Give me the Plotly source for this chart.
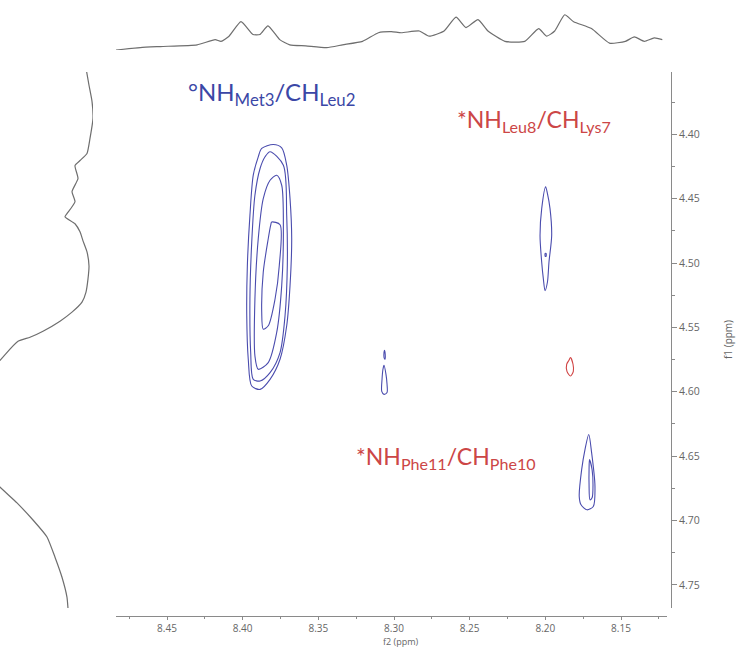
import plotly.graph_objects as go

W, H = 736, 649

# ---- 1D projection along f2 (top trace): chemical shift (ppm) and intensity
top_ppm = [8.4837, 8.4676, 8.4544, 8.4301, 8.4182, 8.4143, 8.4090, 8.4011, 8.3932, 8.3886,
           8.3833, 8.3755, 8.3689, 8.3583, 8.3445, 8.3340, 8.3208, 8.3103, 8.3017, 8.2952,
           8.2833, 8.2768, 8.2669, 8.2590, 8.2524, 8.2445, 8.2379, 8.2267, 8.2136, 8.2044,
           8.1991, 8.1938, 8.1872, 8.1813, 8.1695, 8.1576, 8.1471, 8.1412, 8.1346, 8.1280, 8.1227]
top_int = [0, 7, 10, 15, 30, 25, 40, 82, 45, 45,
           70, 30, 15, 12, 7, 15, 25, 50, 53, 50,
           55, 40, 55, 95, 65, 88, 55, 25, 25, 62,
           40, 55, 102, 82, 62, 20, 25, 38, 25, 35, 30]

# ---- 1D projection along f1 (left trace)
left_ppm = [4.3485, 4.3618, 4.3743, 4.3875, 4.4031, 4.4148, 4.4203, 4.4242, 4.4343, 4.4445,
            4.4523, 4.4616, 4.4640, 4.4694, 4.4757, 4.4827, 4.4913, 4.5022, 4.5123, 4.5225,
            4.5303, 4.5381, 4.5451, 4.5529, 4.5576, 4.5607, 4.5825, 4.6215, 4.6605, 4.6863,
            4.6996, 4.7128, 4.7285, 4.7441, 4.7597, 4.7683]
left_int = [7, 4, 1, 0, 3, 6, 13, 18, 15, 21,
            18, 26, 28, 18, 13, 10, 6, 4, 5, 7,
            11, 21, 33, 50, 63, 75, 100, 125, 110, 76,
            60, 46, 38, 31, 26, 25]

# ---- 2D cross-peak contours (f2 ppm, f1 ppm)
met3_c1_f2 = [8.3874, 8.3798, 8.3742, 8.3709, 8.3687, 8.3676, 8.3687, 8.3709, 8.3753, 8.3819,
              8.3885, 8.3940, 8.3963, 8.3973, 8.3969, 8.3952, 8.3930, 8.3897]
met3_c1_f1 = [4.4109, 4.4078, 4.4104, 4.4239, 4.4499, 4.4811, 4.5175, 4.5487, 4.5747, 4.5903,
              4.5981, 4.5955, 4.5747, 4.5409, 4.5019, 4.4629, 4.4317, 4.4174]
met3_c2_f2 = [8.3819, 8.3731, 8.3709, 8.3705, 8.3720, 8.3753, 8.3819, 8.3885, 8.3930, 8.3947,
              8.3952, 8.3940, 8.3919, 8.3885, 8.3852]
met3_c2_f1 = [4.4135, 4.4239, 4.4629, 4.5019, 4.5409, 4.5695, 4.5851, 4.5916, 4.5903, 4.5695,
              4.5279, 4.4837, 4.4473, 4.4265, 4.4174]
met3_c3_f2 = [8.3775, 8.3742, 8.3731, 8.3742, 8.3775, 8.3831, 8.3897, 8.3919, 8.3919, 8.3897,
              8.3864, 8.3819]
met3_c3_f1 = [4.4317, 4.4395, 4.4759, 4.5175, 4.5539, 4.5773, 4.5825, 4.5721, 4.5279, 4.4811,
              4.4499, 4.4356]
met3_c4_f2 = [8.3808, 8.3753, 8.3758, 8.3786, 8.3831, 8.3864, 8.3874, 8.3864, 8.3831, 8.3815]
met3_c4_f1 = [4.4681, 4.4702, 4.5019, 4.5279, 4.5487, 4.5513, 4.5383, 4.5071, 4.4811, 4.4707]

p830_a_f2 = [8.3066, 8.3053, 8.3046, 8.3046, 8.3066, 8.3081, 8.3079, 8.3073]
p830_a_f1 = [4.5794, 4.5864, 4.5942, 4.6005, 4.6020, 4.5997, 4.5903, 4.5825]
p830_b_f2 = [8.3063, 8.3058, 8.3060, 8.3066, 8.3066]
p830_b_f1 = [4.5677, 4.5708, 4.5747, 4.5732, 4.5693]

lys7_c1_f2 = [8.1998, 8.2024, 8.2035, 8.2024, 8.2013, 8.2002, 8.1986, 8.1976, 8.1958, 8.1969, 8.1986]
lys7_c1_f1 = [4.4408, 4.4577, 4.4785, 4.4993, 4.5123, 4.5214, 4.5147, 4.4993, 4.4785, 4.4577, 4.4460]
lys7_c2_f2 = [8.1995, 8.2001, 8.2001, 8.1995]
lys7_c2_f1 = [4.4925, 4.4925, 4.4947, 4.4947]

neg_f2 = [8.1834, 8.1817, 8.1815, 8.1834, 8.1857, 8.1859, 8.1844]
neg_f1 = [4.5734, 4.5786, 4.5841, 4.5877, 4.5841, 4.5786, 4.5755]

phe10_c1_f2 = [8.1713, 8.1694, 8.1672, 8.1683, 8.1725, 8.1764, 8.1776, 8.1760, 8.1738]
phe10_c1_f1 = [4.6332, 4.6475, 4.6735, 4.6891, 4.6917, 4.6878, 4.6813, 4.6605, 4.6449]
phe10_c2_f2 = [8.1708, 8.1691, 8.1685, 8.1691, 8.1705, 8.1711, 8.1711]
phe10_c2_f1 = [4.6527, 4.6605, 4.6722, 4.6824, 4.6839, 4.6722, 4.6605]

BLUE = "#4a4cae"
RED = "#d04444"
contours = [
    (met3_c1_f2, met3_c1_f1, BLUE), (met3_c2_f2, met3_c2_f1, BLUE),
    (met3_c3_f2, met3_c3_f1, BLUE), (met3_c4_f2, met3_c4_f1, BLUE),
    (p830_a_f2, p830_a_f1, BLUE), (p830_b_f2, p830_b_f1, BLUE),
    (lys7_c1_f2, lys7_c1_f1, BLUE), (lys7_c2_f2, lys7_c2_f1, BLUE),
    (neg_f2, neg_f1, RED),
    (phe10_c1_f2, phe10_c1_f1, BLUE), (phe10_c2_f2, phe10_c2_f1, BLUE),
]

# ---- geometry helpers (pixels -> paper fractions)
def px(x):
    return x / W

def py(y):
    return 1 - y / H

fig = go.Figure()

for xs, ys, col in contours:
    fig.add_trace(go.Scatter(
        x=xs + xs[:1], y=ys + ys[:1], mode="lines",
        line=dict(color=col, width=1.1, shape="spline", smoothing=0.8),
        xaxis="x", yaxis="y", hoverinfo="skip", showlegend=False))

fig.add_trace(go.Scatter(
    x=top_ppm, y=top_int, mode="lines",
    line=dict(color="#6e6e6e", width=1.2, shape="spline", smoothing=0.5),
    xaxis="x", yaxis="y2", hoverinfo="skip", showlegend=False))

fig.add_trace(go.Scatter(
    x=left_int, y=left_ppm, mode="lines",
    line=dict(color="#6e6e6e", width=1.2, shape="spline", smoothing=0.5),
    xaxis="x3", yaxis="y", hoverinfo="skip", showlegend=False))

AXC = "#8a8a8a"
TICKF = dict(family="Open Sans", size=10.5, color="#666666")
XTICKF = dict(family="Open Sans", size=10, color="#666666")

fig.update_layout(
    width=W, height=H,
    margin=dict(l=0, r=0, t=0, b=0),
    paper_bgcolor="white", plot_bgcolor="white",
    xaxis=dict(
        domain=[px(116), px(667)], range=[8.4837, 8.1196],
        anchor="free", position=py(616),
        showline=True, linecolor=AXC, linewidth=1,
        ticks="outside", ticklen=3, tickcolor=AXC, dtick=0.05, tick0=0,
        tickformat=".2f", tickfont=XTICKF,
        minor=dict(ticks="outside", ticklen=2, tickcolor=AXC, dtick=0.025, tick0=0),
        showgrid=False, zeroline=False),
    yaxis=dict(
        domain=[py(608), py(72)], range=[4.768, 4.3515],
        anchor="free", position=px(671), side="right",
        showline=True, linecolor=AXC, linewidth=1,
        ticks="outside", ticklen=5, tickcolor=AXC, dtick=0.05, tick0=0,
        tickformat=".2f", tickfont=TICKF,
        minor=dict(ticks="outside", ticklen=3, tickcolor=AXC, dtick=0.025, tick0=0),
        showgrid=False, zeroline=False),
    yaxis2=dict(
        domain=[py(50), py(12)], range=[0, 110], anchor="x",
        visible=False, showgrid=False, zeroline=False),
    xaxis3=dict(
        domain=[0, px(93)], range=[93, 0], anchor="y",
        visible=False, showgrid=False, zeroline=False),
)

LABF = "Lato"
fig.add_annotation(
    xref="paper", yref="paper", x=px(186), y=py(94), xanchor="left", yanchor="middle",
    text="°NH<sub>Met3</sub>/CH<sub>Leu2</sub>", showarrow=False,
    font=dict(family=LABF, size=24, color="#3b47a6"))
fig.add_annotation(
    xref="paper", yref="paper", x=px(455), y=py(120), xanchor="left", yanchor="middle",
    text="*NH<sub>Leu8</sub>/CH<sub>Lys7</sub>", showarrow=False,
    font=dict(family=LABF, size=23, color="#cc4646"))
fig.add_annotation(
    xref="paper", yref="paper", x=px(354), y=py(457), xanchor="left", yanchor="middle",
    text="*NH<sub>Phe11</sub>/CH<sub>Phe10</sub>", showarrow=False,
    font=dict(family=LABF, size=23, color="#cc4646"))

# axis titles
fig.add_annotation(
    xref="paper", yref="paper", x=px(401), y=0, xanchor="center", yanchor="bottom",
    text="f2 (ppm)", showarrow=False, borderpad=0,
    font=dict(family="Open Sans", size=9, color="#666666"))
fig.add_annotation(
    xref="paper", yref="paper", x=px(728), y=py(340), xanchor="center", yanchor="middle",
    text="f1 (ppm)", textangle=-90, showarrow=False,
    font=dict(family="Open Sans", size=10, color="#666666"))

fig.write_html("out.html")
